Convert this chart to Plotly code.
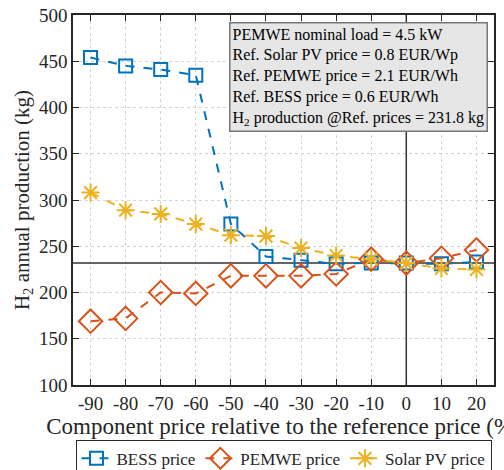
import plotly.graph_objects as go

# Price change relative to the reference price (%)
price_change = [-90, -80, -70, -60, -50, -40, -30, -20, -10, 0, 10, 20]

# Annual H2 production (kg) for each varied component price
bess_h2 = [454, 445, 441, 435, 274, 239, 235, 231, 232, 231.8, 231, 233]
pemwe_h2 = [169, 172, 200, 199, 218, 218, 218, 220, 236, 231.8, 237, 246]
solar_h2 = [308, 289, 285, 274, 262, 261, 248, 240, 236, 231.8, 226, 225]

ref_h2 = 231.8
ref_change = 0

x_range = [-95, 25]
y_range = [100, 500]
x_ticks = [-90, -80, -70, -60, -50, -40, -30, -20, -10, 0, 10, 20]
y_ticks = [100, 150, 200, 250, 300, 350, 400, 450, 500]

info_lines = [
    "PEMWE nominal load = 4.5 kW",
    "Ref. Solar PV price = 0.8 EUR/Wp",
    "Ref. PEMWE price = 2.1 EUR/Wh",
    "Ref. BESS price = 0.6 EUR/Wh",
    "H<sub>2</sub> production @Ref. prices = 231.8 kg",
]

BLUE = "#0072BD"
ORANGE = "#D95319"
YELLOW = "#EDB120"
SERIF = "Liberation Serif"
INK = "#262626"

fig = go.Figure()

# reference cross-hair through the reference point
fig.add_trace(go.Scatter(
    x=x_range, y=[ref_h2, ref_h2], mode="lines", showlegend=False, hoverinfo="skip",
    line=dict(color="#333333", width=1.5),
))
fig.add_trace(go.Scatter(
    x=[ref_change, ref_change], y=y_range, mode="lines", showlegend=False, hoverinfo="skip",
    line=dict(color="#333333", width=1.5),
))

fig.add_trace(go.Scatter(
    x=price_change, y=bess_h2, name="BESS price", mode="lines+markers",
    line=dict(color=BLUE, width=2, dash="dash"),
    marker=dict(symbol="square-open", size=13, color=BLUE, line=dict(width=2, color=BLUE)),
))
fig.add_trace(go.Scatter(
    x=price_change, y=pemwe_h2, name="PEMWE price", mode="lines+markers",
    line=dict(color=ORANGE, width=2, dash="dash"),
    marker=dict(symbol="diamond-open", size=18, color=ORANGE, line=dict(width=2, color=ORANGE)),
))
fig.add_trace(go.Scatter(
    x=price_change, y=solar_h2, name="Solar PV price", mode="lines+markers",
    line=dict(color=YELLOW, width=2, dash="dash"),
    marker=dict(symbol="asterisk-open", size=15, color=YELLOW, line=dict(width=2, color=YELLOW)),
))

fig.add_annotation(
    xref="paper", yref="paper", x=0.985, y=0.98, xanchor="right", yanchor="top",
    text="<br>".join(info_lines), align="left", showarrow=False,
    font=dict(family=SERIF, size=16, color="black"),
    bgcolor="#e6e6e6", bordercolor="#777777", borderwidth=1.5, borderpad=2,
)

axis_common = dict(
    showline=True, linecolor=INK, linewidth=1.5, mirror="ticks",
    ticks="inside", ticklen=6, tickcolor=INK,
    showgrid=True, gridcolor="#d4d4d4", griddash="dot", gridwidth=1,
    zeroline=False, tickfont=dict(family=SERIF, size=19, color=INK),
)

fig.update_xaxes(
    range=x_range, tickvals=x_ticks, ticktext=[str(v) for v in x_ticks],
    title=dict(text="Component price relative to the reference price (%)",
               font=dict(family=SERIF, size=23, color=INK), standoff=4),
    **axis_common,
)
fig.update_yaxes(
    range=y_range, tickvals=y_ticks,
    title=dict(text="H<sub>2</sub> annual production (kg)",
               font=dict(family=SERIF, size=21, color=INK), standoff=4),
    **axis_common,
)

fig.update_layout(
    width=504, height=470,
    margin=dict(l=73, r=10, t=15, b=85, autoexpand=False),
    paper_bgcolor="white", plot_bgcolor="white",
    font=dict(family=SERIF, color=INK),
    showlegend=True,
    legend=dict(
        orientation="h", xref="paper", yref="paper", x=0.5, xanchor="center",
        y=-0.148, yanchor="top", bgcolor="white", bordercolor=INK, borderwidth=1,
        font=dict(family=SERIF, size=17, color=INK), itemwidth=30,
        tracegroupgap=0,
    ),
)

fig.write_html("out.html")
